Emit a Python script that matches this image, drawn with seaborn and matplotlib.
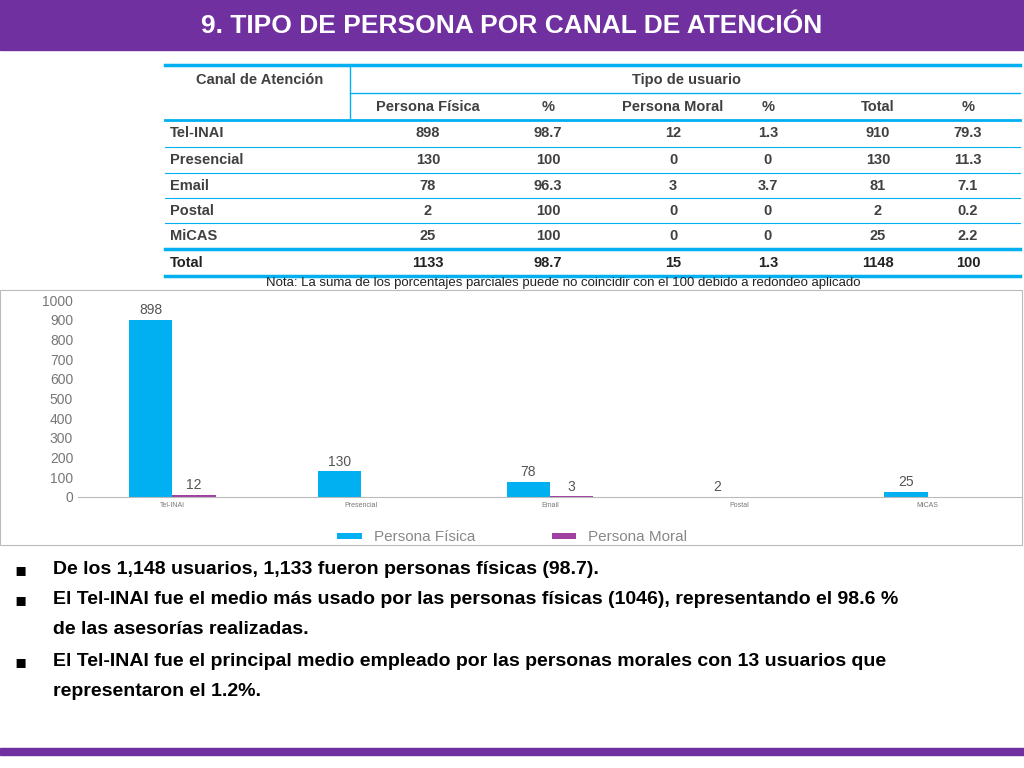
import matplotlib
matplotlib.use("Agg")
import matplotlib.pyplot as plt
import seaborn as sns
import pandas as pd
from matplotlib.patches import Rectangle

plt.rcParams["font.family"] = "Liberation Sans"

canales = ["Tel-INAI", "Presencial", "Email", "Postal", "MiCAS"]
fisica = [898, 130, 78, 2, 25]
moral = [12, 0, 3, 0, 0]
pct_fisica = ["98.7", "100", "96.3", "100", "100"]
pct_moral = ["1.3", "0", "3.7", "0", "0"]
total = [910, 130, 81, 2, 25]
pct_total = ["79.3", "11.3", "7.1", "0.2", "2.2"]
bar_labels_fisica = ["898", "130", "78", "2", "25"]
bar_labels_moral = ["12", "", "3", "", ""]

PURPLE = "#7030A0"
BLUE = "#00B0F0"
MAG = "#A040A0"

fig = plt.figure(figsize=(10.24, 7.68), dpi=100)
def fx(x): return x / 1024
def fy(y): return 1 - y / 768

fig.patches.append(Rectangle((0, fy(50)), 1, 50/768, transform=fig.transFigure, color=PURPLE))
fig.text(0.5, fy(26), "9. TIPO DE PERSONA POR CANAL DE ATENCIÓN", color="white", fontsize=19,
         fontweight="bold", ha="center", va="center")
fig.patches.append(Rectangle((0, fy(755)), 1, 7/768, transform=fig.transFigure, color=PURPLE))

cols_x = [210, 428, 548, 673, 768, 878, 968]
hdr_c = "#404040"
fig.text(fx(260), fy(80), "Canal de Atención", fontsize=10.5, fontweight="bold", color=hdr_c, ha="center", va="center")
fig.text(fx(686), fy(80), "Tipo de usuario", fontsize=10.5, fontweight="bold", color=hdr_c, ha="center", va="center")
for x, h in zip(cols_x[1:], ["Persona Física", "%", "Persona Moral", "%", "Total", "%"]):
    fig.text(fx(x), fy(107), h, fontsize=10.5, fontweight="bold", color=hdr_c, ha="center", va="center")
rows_y = [133, 160, 186, 211, 236]
for i, y in enumerate(rows_y):
    vals = [canales[i], str(fisica[i]), pct_fisica[i], str(moral[i]), pct_moral[i], str(total[i]), pct_total[i]]
    for j, (x, v) in enumerate(zip(cols_x, vals)):
        fig.text(fx(170) if j == 0 else fx(x), fy(y), v, fontsize=10.5, fontweight="bold", color=hdr_c,
                 ha="left" if j == 0 else "center", va="center")
tot = ["Total", "1133", "98.7", "15", "1.3", "1148", "100"]
for j, (x, v) in enumerate(zip(cols_x, tot)):
    fig.text(fx(170) if j == 0 else fx(x), fy(263), v, fontsize=10.5, fontweight="bold", color="#222222",
             ha="left" if j == 0 else "center", va="center")
def hline(y, x0, x1, lw=1.5):
    fig.add_artist(plt.Line2D([fx(x0), fx(x1)], [fy(y), fy(y)], transform=fig.transFigure, color=BLUE, lw=lw))
hline(65, 165, 1020, 2.5)
hline(93, 350, 1020, 1)
hline(120, 165, 1020, 2)
for y in [147, 173, 198, 223]:
    hline(y, 165, 1020, 0.8)
hline(249, 165, 1020, 2.5)
hline(276, 165, 1020, 2.5)
fig.add_artist(plt.Line2D([fx(350), fx(350)], [fy(65), fy(120)], transform=fig.transFigure, color=BLUE, lw=1))

fig.text(fx(563), fy(283), "Nota: La suma de los porcentajes parciales puede no coincidir con el 100 debido a redondeo aplicado",
         fontsize=9.5, ha="center", va="center", color="#222222")

fig.patches.append(Rectangle((0, fy(545)), fx(1022), 255/768, transform=fig.transFigure,
                             fill=False, ec="#BBBBBB", lw=0.8))

df = pd.DataFrame({"Canal": canales * 2, "Valor": fisica + moral,
                   "Tipo": ["Persona Física"] * 5 + ["Persona Moral"] * 5})
ax = fig.add_axes([fx(78), fy(497), fx(944), 197/768])
sns.barplot(data=df, x="Canal", y="Valor", hue="Tipo", palette=[BLUE, MAG], width=0.46,
            saturation=1, ax=ax, legend=True)
ax.set_ylim(0, 1000)
ax.set_yticks(range(0, 1001, 100))
ax.tick_params(axis="y", labelsize=10, colors="#777777", length=0)
ax.tick_params(axis="x", labelsize=5, colors="#777777", length=0)
ax.set_xlabel(""); ax.set_ylabel("")
for s in ["top", "right", "left"]:
    ax.spines[s].set_visible(False)
ax.spines["bottom"].set_color("#BBBBBB")
for cont, labs in zip(ax.containers, [bar_labels_fisica, bar_labels_moral]):
    ax.bar_label(cont, labels=labs, padding=2, fontsize=10, color="#555555")
ax.legend(loc="upper center", bbox_to_anchor=(0.46, -0.1), ncol=2, frameon=False, fontsize=11,
          labelcolor="#888888", handlelength=1.6, handleheight=0.3, columnspacing=5)

bullets = [
    (570, "De los 1,148 usuarios, 1,133 fueron personas físicas (98.7).", True),
    (600, "El Tel-INAI fue el medio más usado por las personas físicas (1046), representando el 98.6 %", True),
    (630, "de las asesorías realizadas.", False),
    (662, "El Tel-INAI fue el principal medio empleado por las personas morales con 13 usuarios que", True),
    (692, "representaron el 1.2%.", False),
]
for y, t, mark in bullets:
    if mark:
        fig.text(fx(14), fy(y), "▪", fontsize=13, va="center", color="black", family="DejaVu Sans")
    fig.text(fx(53), fy(y), t, fontsize=14, fontweight="bold", va="center", color="black")

fig.savefig("out.png", dpi=100)
